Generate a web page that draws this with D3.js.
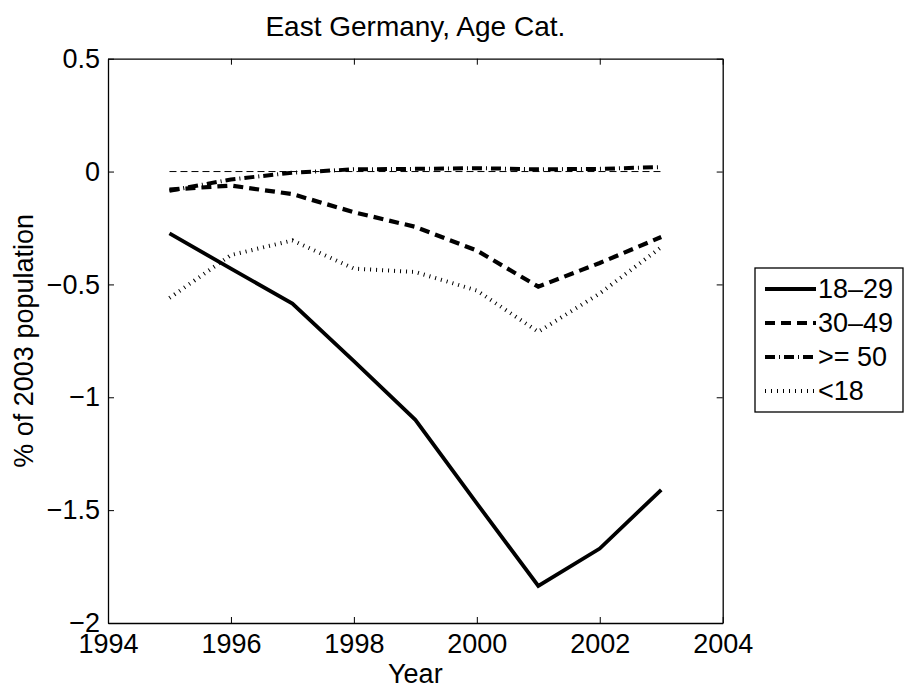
<!DOCTYPE html>
<html>
<head>
<meta charset="utf-8">
<script src="https://cdn.jsdelivr.net/npm/d3@7"></script>
<style>
	body { margin: 0; background: #fff; }
	text { font-family: 'Liberation Sans', Arial, Helvetica, sans-serif; fill: #000; }
</style>
</head>
<body>
<svg id="chart" width="905" height="691"></svg>
<script>
// values
const years = [1995, 1996, 1997, 1998, 1999, 2000, 2001, 2002, 2003];
const age18to29 = [-0.274, -0.43, -0.585, -0.84, -1.10, -1.47, -1.836, -1.67, -1.41];
const age30to49 = [-0.08, -0.062, -0.10, -0.18, -0.245, -0.35, -0.51, -0.405, -0.29];
const age50plus = [-0.085, -0.035, -0.005, 0.01, 0.012, 0.015, 0.01, 0.012, 0.02];
const ageUnder18 = [-0.56, -0.37, -0.305, -0.43, -0.445, -0.527, -0.71, -0.54, -0.335];
const seriesNames = ['18–29', '30–49', '>= 50', '<18'];
const xTicks = [1994, 1996, 1998, 2000, 2002, 2004];
const yTicks = [0.5, 0, -0.5, -1, -1.5, -2];

const styles = [
	{ width: 3.8, dash: null },
	{ width: 4.2, dash: '10,6' },
	{ width: 4, dash: '10,4,1,4' },
	{ width: 4, dash: '1,5' }
];

const svg = d3.select('#chart');
const margin = { left: 108, top: 58.7, right: 905 - 722.7, bottom: 691 - 623 };
const width = 905 - margin.left - margin.right;
const height = 691 - margin.top - margin.bottom;
const fontSize = 27;

const x = d3.scaleLinear().domain([1994, 2004]).range([0, width]);
const y = d3.scaleLinear().domain([-2, 0.5]).range([height, 0]);

const g = svg.append('g').attr('transform', `translate(${margin.left},${margin.top})`);

// zero reference line
g.append('line')
	.attr('x1', x(1995)).attr('x2', x(2003))
	.attr('y1', y(0)).attr('y2', y(0))
	.attr('stroke', '#000').attr('stroke-width', 1).attr('stroke-dasharray', '7,4');

const allSeries = [age18to29, age30to49, age50plus, ageUnder18];
const line = d3.line().x((d, i) => x(years[i])).y((d) => y(d));

// draw back to front so the solid line sits on top
[3, 2, 1, 0].forEach((k) => {
	g.append('path')
		.datum(allSeries[k])
		.attr('d', line)
		.attr('fill', 'none')
		.attr('stroke', '#000')
		.attr('stroke-width', styles[k].width)
		.attr('stroke-dasharray', styles[k].dash)
		.attr('stroke-linejoin', 'miter');
});

// axes, ticks pointing inward on all four sides
const styleAxis = (sel) => {
	sel.select('.domain').attr('stroke-width', 1.3);
	sel.selectAll('.tick line').attr('stroke-width', 1);
	sel.selectAll('text').style('font-size', fontSize + 'px').attr('fill', '#000');
};

g.append('g')
	.attr('transform', `translate(0,${height})`)
	.call(d3.axisBottom(x).tickValues(xTicks).tickFormat(d3.format('d')).tickSize(-6).tickSizeOuter(0).tickPadding(11))
	.call(styleAxis);

g.append('g')
	.call(d3.axisTop(x).tickValues(xTicks).tickFormat('').tickSize(-6).tickSizeOuter(0))
	.call(styleAxis);

g.append('g')
	.call(d3.axisLeft(y).tickValues(yTicks).tickFormat(d3.format('~g')).tickSize(-6).tickSizeOuter(0).tickPadding(8))
	.call(styleAxis);

g.append('g')
	.attr('transform', `translate(${width},0)`)
	.call(d3.axisRight(y).tickValues(yTicks).tickFormat('').tickSize(-6).tickSizeOuter(0))
	.call(styleAxis);

// title and axis labels
svg.append('text')
	.attr('x', margin.left + width / 2).attr('y', 35.7)
	.attr('text-anchor', 'middle')
	.style('font-size', '28px')
	.text('East Germany, Age Cat.');

svg.append('text')
	.attr('x', margin.left + width / 2).attr('y', 683)
	.attr('text-anchor', 'middle')
	.style('font-size', fontSize + 'px')
	.text('Year');

svg.append('text')
	.attr('transform', `translate(33,${margin.top + height / 2}) rotate(-90)`)
	.attr('text-anchor', 'middle')
	.style('font-size', fontSize + 'px')
	.text('% of 2003 population');

// legend
const legend = svg.append('g').attr('transform', 'translate(755,268)');
legend.append('rect')
	.attr('width', 148).attr('height', 144)
	.attr('fill', '#fff').attr('stroke', '#000').attr('stroke-width', 1.3);

seriesNames.forEach((name, k) => {
	const rowY = 21 + k * 34;
	legend.append('line')
		.attr('x1', 10).attr('x2', 61)
		.attr('y1', rowY).attr('y2', rowY)
		.attr('stroke', '#000')
		.attr('stroke-width', styles[k].width)
		.attr('stroke-dasharray', styles[k].dash);
	legend.append('text')
		.attr('x', 63).attr('y', rowY)
		.attr('dy', '0.35em')
		.style('font-size', fontSize + 'px')
		.text(name);
});
</script>
</body>
</html>
